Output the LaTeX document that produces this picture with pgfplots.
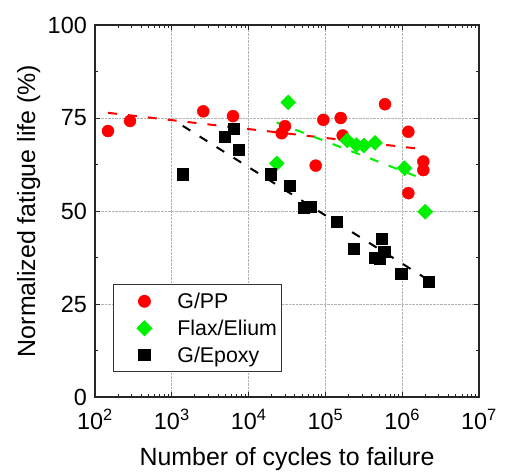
\documentclass[border=0pt]{standalone}
\usepackage{fontspec}
\setmainfont{Liberation Sans}
\usepackage{pgfplots}
\pgfplotsset{compat=1.18}
\definecolor{lime}{RGB}{0,240,0}
\begin{document}
\begin{tikzpicture}
\begin{axis}[
  at={(0,0)}, anchor=south west,
  scale only axis, width=384bp, height=372bp,
  xmode=log, xmin=100, xmax=1e7, ymin=0, ymax=100,
  axis line style={line width=1.1bp, black!85},
  xtick={100,1000,10000,100000,1000000,10000000},
  xticklabels={10\textsuperscript{2},10\textsuperscript{3},10\textsuperscript{4},10\textsuperscript{5},10\textsuperscript{6},10\textsuperscript{7}},
  ytick={0,25,50,75,100},
  yticklabels={0,25,50,75,100},
  minor ytick={12.5,37.5,62.5,87.5},
  tick align=inside, tick pos=both,
  major tick length=5bp, minor tick length=3bp,
  every tick/.style={black!85, line width=0.9bp},
  ymajorgrids, xmajorgrids,
  grid style={densely dotted, black!30, line width=0.8bp},
  ticklabel style={font=\fontsize{23.5}{26}\selectfont},
  xticklabel style={inner sep=0pt, anchor=north, yshift=-12bp},
  yticklabel style={inner sep=0pt, anchor=east, xshift=-8bp},
  xlabel={Number of cycles to failure},
  ylabel={Normalized fatigue life (\%)},
  label style={font=\fontsize{25}{28}\selectfont},
  xlabel style={at={(axis description cs:0.5,0)}, anchor=base, yshift=-68bp},
  ylabel style={at={(axis description cs:-0.156,0.5)}, anchor=base, rotate=0},
  legend style={at={(axis description cs:0.047,0.067)}, anchor=south west,
    draw=black!80, line width=0.8bp, inner xsep=3bp, inner ysep=7bp,
    row sep=8bp,
    font=\fontsize{21.4}{24}\selectfont,
    nodes={inner sep=1bp, anchor=west}},
  legend cell align=left,
  legend image code/.code={\path[draw=none,fill=none] (0bp,-6bp) (60bp,6bp); \draw[#1] plot coordinates {(28bp,0bp)};},
]
% trend lines
\addplot[red, line width=2bp, dash pattern=on 9bp off 11bp, forget plot] coordinates {(147.9,76.4) (1883649,66.6)};
\addplot[lime, line width=2bp, dash pattern=on 9bp off 11bp, forget plot] coordinates {(23174,73.8) (1778279,58.8)};
\addplot[black, line width=2bp, dash pattern=on 9bp off 11bp, forget plot] coordinates {(1387,72.9) (1883649,32.3)};
% G/PP
\addplot[only marks, mark=*, mark size=6bp, color=red, mark options={draw=red, fill=red}] coordinates {
(147.6,71.5) (285.8,74.2) (2570,76.8) (6266,75.5) (29785,72.8) (26977,70.9)
(74817,62.2) (94000,74.5) (158125,75.0) (167880,70.3) (597035,78.7)
(1202264,71.3) (1202264,54.8) (1883649,63.3) (1883649,61.0)};
\addlegendentry{G/PP}
% Flax/Elium
\addplot[only marks, mark=square*, mark size=5.3bp, color=lime, mark options={draw=lime, fill=lime, rotate=45}] coordinates {
(32885,79.2) (23227,62.8) (192752,69.0) (254097,67.7) (316228,67.6)
(442588,68.3) (1071519,61.5) (1995262,49.8)};
\addlegendentry{Flax/Elium}
% G/Epoxy
\addplot[only marks, mark=square*, mark size=5.6bp, color=black, mark options={draw=black, fill=black}] coordinates {
(1387,59.9) (4932,69.9) (6457,72.2) (7345,66.4) (19187,59.9) (34276,56.8)
(52119,50.9) (64938,51.2) (141579,47.1) (235505,39.8) (543250,42.6)
(582103,39.1) (442588,37.4) (514044,37.3) (970510,33.1) (2197860,30.9)};
\addlegendentry{G/Epoxy}
\end{axis}
\path[use as bounding box] (-95bp,-76bp) rectangle (410bp,397bp);
\end{tikzpicture}
\end{document}
